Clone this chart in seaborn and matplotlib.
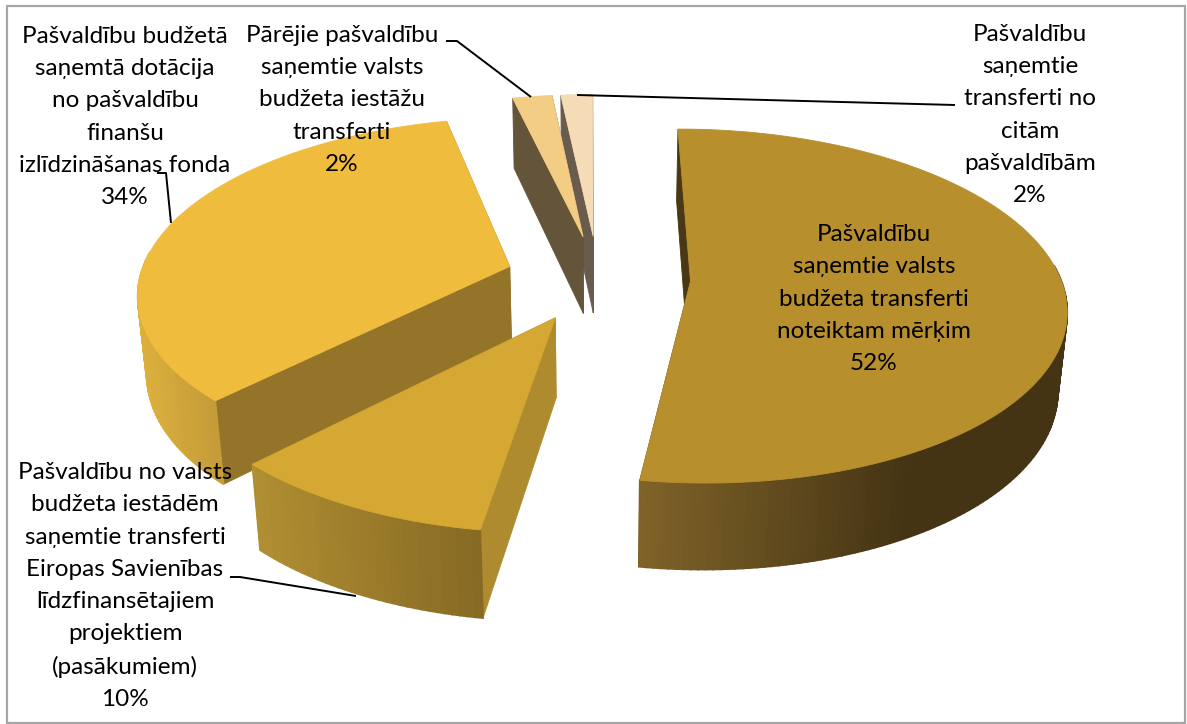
import numpy as np
import matplotlib
matplotlib.use("Agg")
import matplotlib.pyplot as plt
from matplotlib.patches import Rectangle
import seaborn as sns

# ---- data -------------------------------------------------------------
label_names = [
    "Pašvaldību\nsaņemtie valsts\nbudžeta transferti\nnoteiktam mērķim",
    "Pašvaldību no valsts\nbudžeta iestādēm\nsaņemtie transferti\nEiropas Savienības\nlīdzfinansētajiem\nprojektiem\n(pasākumiem)",
    "Pašvaldību budžetā\nsaņemtā dotācija\nno pašvaldību\nfinanšu\nizlīdzināšanas fonda",
    "Pārējie pašvaldību\nsaņemtie valsts\nbudžeta iestāžu\ntransferti",
    "Pašvaldību\nsaņemtie\ntransferti no\ncitām\npašvaldībām",
]
shares = [52.49, 9.9, 34.0, 2.0, 1.61]
shown_percent = [52, 10, 34, 2, 2]

top_colors = ["#B78F2D", "#D5A733", "#F0BC3E", "#F4CD85", "#F6DBB7"]
cut_colors = ["#4A3815", "#AE8B2E", "#937428", "#64543A", "#695C4D"]
rim_left = ["#7E6228", "#B08E32", "#DDB03E", "#64543A", "#695C4D"]
rim_right = ["#453414", "#876A24", "#C49C38", "#64543A", "#695C4D"]

# ---- layout -----------------------------------------------------------
label_pos = [(874, 299), (125, 586), (125, 117), (342, 100), (1030, 115)]
leaders = {
    1: [(230, 577), (240, 577), (356, 596)],
    2: [(157, 173), (166, 173), (171, 223)],
    3: [(446, 41), (457, 41), (531, 97)],
    4: [(955, 105), (577, 95)],
}
draw_order = [4, 3, 2, 0, 1]
CX, CY, RX, RY, DEPTH = 598.0, 278.0, 370.0, 172.6, 80.0
PERSP, PERSP_Z, EXPLODE, START = 0.14, 0.02, 0.25, -0.2

sns.set_theme(style="white")
plt.rcParams["font.family"] = ["Lato", "Open Sans", "DejaVu Sans"]


def project(x, y, low=False):
    """Map a point of the pie plane to the picture (top or bottom face)."""
    w = 1 + PERSP * y + (PERSP_Z if low else 0.0)
    z = DEPTH if low else 0.0
    return CX + RX * x / w, CY + (-RY * y + z) / w


def face(ax, xs, ys, color, zorder, lw=0.6):
    ax.fill(xs, ys, facecolor=color, edgecolor=color, linewidth=lw, zorder=zorder)


fig = plt.figure(figsize=(11.87, 7.24), dpi=100)
ax = fig.add_axes([0, 0, 1, 1])
ax.set_xlim(0, 1187)
ax.set_ylim(724, 0)
ax.axis("off")
ax.add_patch(Rectangle((7, 6), 1178, 717, fill=False, ec="#A6A6A6", lw=1.6, zorder=1))

edges = START + 360.0 * np.cumsum([0] + shares) / sum(shares)
z = 2
for i in draw_order:
    a0, a1 = np.radians(edges[i]), np.radians(edges[i + 1])
    mid = (a0 + a1) / 2
    ox, oy = EXPLODE * np.sin(mid), EXPLODE * np.cos(mid)
    ang = np.linspace(a0, a1, max(6, int(np.degrees(a1 - a0))))
    px, py = ox + np.sin(ang), oy + np.cos(ang)

    # the two cut faces
    for a in (a0, a1):
        ex, ey = ox + np.sin(a), oy + np.cos(a)
        pts = [project(ox, oy), project(ex, ey), project(ex, ey, True), project(ox, oy, True)]
        face(ax, [p[0] for p in pts], [p[1] for p in pts], cut_colors[i], z)
    z += 1

    # outer wall: only the near half shows, shaded left to right
    tx, ty = project(px, py)
    bx, by = project(px, py, True)
    n = len(ang) - 1
    near = [j for j in range(n) if np.cos(ang[j]) < 0.1 and np.cos(ang[j + 1]) < 0.1]
    pal = sns.blend_palette([rim_left[i], rim_right[i]], 64)
    if near:
        lo = min(tx[j] for j in near)
        hi = max(tx[j] for j in near)
        hi = min(hi, lo + 260) if i == 0 else hi
        for j in sorted(near, key=lambda j: py[j] + py[j + 1], reverse=True):
            frac = np.clip((tx[j] - lo) / max(hi - lo, 1), 0, 1)
            face(ax, [tx[j], tx[j + 1], bx[j + 1], bx[j]], [ty[j], ty[j + 1], by[j + 1], by[j]],
                 pal[int(frac * 63)], z, lw=1.2)
    z += 1

    # top face
    cx0, cy0 = project(ox, oy)
    face(ax, np.r_[cx0, tx], np.r_[cy0, ty], top_colors[i], z)
    z += 1

for i, pts in leaders.items():
    ax.plot([p[0] for p in pts], [p[1] for p in pts], color="black", lw=1.4, zorder=z,
            solid_capstyle="butt")
for name, pct, (x, y) in zip(label_names, shown_percent, label_pos):
    ax.text(x, y, f"{name}\n{pct}%", ha="center", va="center", fontsize=17.5,
            linespacing=1.65, color="black", zorder=z + 1)

fig.savefig("out.png", dpi=100, facecolor="white")
